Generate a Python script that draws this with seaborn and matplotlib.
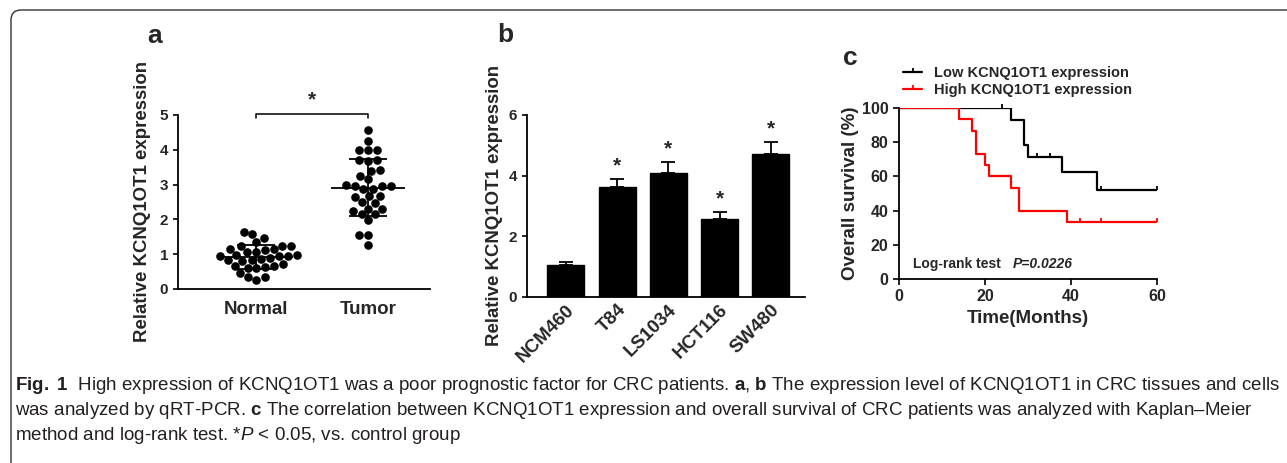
import matplotlib
matplotlib.use("Agg")
import matplotlib.pyplot as plt
import seaborn as sns
import numpy as np
import pandas as pd
from matplotlib.patches import FancyBboxPatch
from matplotlib.lines import Line2D
from matplotlib.transforms import IdentityTransform

# ---- data ----
# a: relative expression in tissues
normal = [1.65, 1.47, 1.35, 1.57, 1.24, 1.15, 1.12, 1.05, 0.98, 0.95, 0.95, 0.96,
          0.98, 1.05, 1.15, 1.23, 1.24, 0.85, 0.84, 0.82, 0.80, 0.72, 0.65, 0.60,
          0.60, 0.63, 0.67, 0.35, 0.27, 0.35, 0.47, 0.90]
tumor = [4.57, 4.24, 3.98, 3.98, 3.98, 3.68, 3.70, 3.72, 3.42, 3.40, 3.26, 3.16,
         2.95, 2.88, 2.99, 2.95, 2.97, 2.86, 2.68, 2.64, 2.66, 2.49, 2.47, 2.31,
         2.31, 2.25, 2.15, 2.15, 1.99, 1.56, 1.56, 1.27]
groups_a = ["Normal", "Tumor"]

# b: relative expression in cell lines
cell_lines = ["NCM460", "T84", "LS1034", "HCT116", "SW480"]
cell_expr = [1.04, 3.61, 4.08, 2.58, 4.72]
cell_err = [0.10, 0.27, 0.36, 0.21, 0.38]
cell_sig = [False, True, True, True, True]

# c: Kaplan-Meier curves
low_time = [0, 26, 29, 30, 38, 46, 60]
low_surv = [100, 92.9, 78.6, 71.4, 62.5, 52.1, 52.1]
low_cens_time = [24, 32, 35, 47, 60]
low_cens_surv = [100, 71.4, 71.4, 52.1, 52.1]
high_time = [0, 14, 17, 18, 20, 21, 26, 28, 39, 60]
high_surv = [100, 93.3, 86.7, 73.3, 66.7, 60, 53.3, 40, 33.3, 33.3]
high_cens_time = [42, 47, 60]
high_cens_surv = [33.3, 33.3, 33.3]

W, H = 1287, 463
sns.set_style("ticks")
plt.rcParams["font.family"] = ["Liberation Sans", "DejaVu Sans"]
plt.rcParams["font.weight"] = "bold"
plt.rcParams["axes.labelweight"] = "bold"
plt.rcParams["mathtext.fontset"] = "custom"
plt.rcParams["mathtext.rm"] = "Liberation Sans:weight=normal"
plt.rcParams["mathtext.bf"] = "Liberation Sans:weight=bold"
plt.rcParams["mathtext.it"] = "Liberation Sans:style=italic:weight=normal"

fig = plt.figure(figsize=(W / 100, H / 100), dpi=100)


def px_axes(left, right, bottom, top):
    return fig.add_axes([left / W, 1 - bottom / H, (right - left) / W, (bottom - top) / H])


def style_axis(ax):
    sns.despine(ax=ax)
    for s in ("left", "bottom"):
        ax.spines[s].set_linewidth(1.3)
        ax.spines[s].set_color("black")
    ax.tick_params(width=1.2, length=3.5, color="black", direction="out")


# ---- panel a ----
ax_a = px_axes(178, 430, 289, 115)
df_a = pd.DataFrame({"group": ["Normal"] * len(normal) + ["Tumor"] * len(tumor),
                     "value": normal + tumor})
sns.swarmplot(data=df_a, x="group", y="value", order=groups_a, color="black",
              size=6.2, ax=ax_a)
for i, vals in enumerate([normal, tumor]):
    m, s = np.mean(vals), np.std(vals, ddof=1)
    ax_a.hlines(m, i - 0.33, i + 0.33, color="black", lw=1.3, zorder=5)
    ax_a.hlines([m - s, m + s], i - 0.17, i + 0.17, color="black", lw=1.3, zorder=5)
    ax_a.vlines(i, m - s, m + s, color="black", lw=1.3, zorder=5)
ax_a.plot([0, 0, 1, 1], [4.9, 5.02, 5.02, 4.9], color="black", lw=1.1, clip_on=False)
ax_a.text(0.5, 5.15, "*", ha="center", va="bottom", fontsize=15)
ax_a.set_xlim(-0.7, 1.55)
ax_a.set_ylim(0, 5)
ax_a.set_yticks(range(6))
style_axis(ax_a)
ax_a.tick_params(axis="x", length=0, labelsize=13.5, pad=9)
ax_a.tick_params(axis="y", labelsize=11)
ax_a.set_xlabel("")
ax_a.set_ylabel("Relative KCNQ1OT1 expression", fontsize=13.4, labelpad=6)

# ---- panel b ----
ax_b = px_axes(527, 805, 297, 115)
sns.barplot(x=cell_lines, y=cell_expr, color="black", width=0.72, ax=ax_b,
            edgecolor="black", saturation=1)
xb = np.arange(len(cell_lines))
ax_b.errorbar(xb, cell_expr, yerr=[np.zeros(len(cell_err)), cell_err], fmt="none",
              ecolor="black", elinewidth=1.3, capsize=5, capthick=1.3)
for i, (v, e, sig) in enumerate(zip(cell_expr, cell_err, cell_sig)):
    if sig:
        ax_b.text(i, v + e + 0.12, "*", ha="center", va="bottom", fontsize=15)
ax_b.set_xlim(-0.76, 4.67)
ax_b.set_ylim(0, 6)
ax_b.set_yticks([0, 2, 4, 6])
style_axis(ax_b)
ax_b.tick_params(axis="x", length=0, labelsize=13.5, pad=3)
ax_b.tick_params(axis="y", labelsize=11)
plt.setp(ax_b.get_xticklabels(), rotation=45, ha="right", rotation_mode="anchor")
ax_b.set_ylabel("Relative KCNQ1OT1 expression", fontsize=13.4, labelpad=4)

# ---- panel c ----
ax_c = px_axes(899, 1157, 279, 108)
sns.lineplot(x=low_time, y=low_surv, drawstyle="steps-post", color="black", lw=1.6,
             estimator=None, ax=ax_c)
sns.lineplot(x=high_time, y=high_surv, drawstyle="steps-post", color="#ff0000", lw=1.6,
             estimator=None, ax=ax_c)
ax_c.plot(low_cens_time, low_cens_surv, ls="none", marker=2, ms=3, mew=1.3,
          color="black", clip_on=False)
ax_c.plot(high_cens_time, high_cens_surv, ls="none", marker=2, ms=3, mew=1.3,
          color="#ff0000", clip_on=False)
ax_c.set_xlim(0, 60)
ax_c.set_ylim(0, 100)
ax_c.set_xticks([0, 20, 40, 60])
ax_c.set_yticks(range(0, 101, 20))
style_axis(ax_c)
ax_c.tick_params(labelsize=11.5, length=4)
ax_c.set_xlabel("Time(Months)", fontsize=13.5, labelpad=4)
ax_c.set_ylabel("Overall survival (%)", fontsize=13.5, labelpad=2)
ax_c.text(3.3, 8.8, "Log-rank test", fontsize=10, va="center")
ax_c.text(26.5, 8.8, "P=0.0226", fontsize=10, va="center", fontstyle="italic")
handles = [Line2D([], [], color="black", lw=1.6, marker=2, ms=3, mew=1.3),
           Line2D([], [], color="#ff0000", lw=1.6, marker=2, ms=3, mew=1.3)]
ax_c.legend(handles, ["Low KCNQ1OT1 expression", "High KCNQ1OT1 expression"],
            loc="lower left", bbox_to_anchor=(0.016, 1.065), frameon=False,
            fontsize=10.5, handlelength=1.3, handletextpad=0.8, labelspacing=0.2,
            borderpad=0, borderaxespad=0)

# ---- panel letters ----
for letter, x, y in [("a", 147, 43), ("b", 497, 42), ("c", 843, 65)]:
    fig.text(x / W, 1 - y / H, letter, fontsize=19, fontweight="bold", va="baseline")

# ---- caption ----
cap_lines = [
    r"$\mathbf{Fig.\ 1}$  High expression of KCNQ1OT1 was a poor prognostic factor for CRC patients. "
    r"$\mathbf{a}$, $\mathbf{b}$ The expression level of KCNQ1OT1 in CRC tissues and cells",
    r"was analyzed by qRT-PCR. $\mathbf{c}$ The correlation between KCNQ1OT1 expression and "
    r"overall survival of CRC patients was analyzed with Kaplan–Meier",
    r"method and log-rank test. *$\mathit{P}$ < 0.05, vs. control group",
]
cap_y = [390, 415, 440]
cap_texts = [fig.text(15 / W, 1 - y / H, s, fontsize=12, fontweight="normal",
                      color="#231f20", va="baseline")
             for s, y in zip(cap_lines, cap_y)]
renderer = fig.canvas.get_renderer()
w1 = cap_texts[0].get_window_extent(renderer).width
for t in cap_texts:
    t.set_fontsize(12 * 1260 / w1)

# ---- frame ----
fig.patches.append(FancyBboxPatch((11, -30), 1400, H - 10 + 30,
                                  boxstyle="round,pad=0,rounding_size=10",
                                  transform=IdentityTransform(), fill=False,
                                  edgecolor="#333333", lw=1.0))

fig.savefig("out.png", dpi=100)
